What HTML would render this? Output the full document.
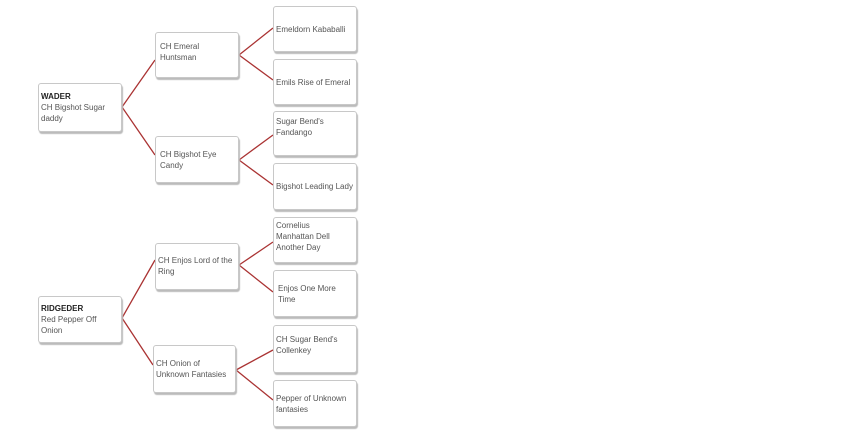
<!DOCTYPE html>
<html><head><style>
body{margin:0;width:860px;height:448px;background:#fff;position:relative;font-family:"Liberation Sans",sans-serif;overflow:hidden}
.b{position:absolute;box-sizing:border-box;border:1px solid #c8c8c8;border-radius:3px;background:#fff;box-shadow:1px 2px 1px #bbb;font-size:8px;line-height:11px;color:#555;padding:2px 2px;display:flex;align-items:center}
.t{align-items:flex-start;padding-top:4px}
b{color:#222}
svg{position:absolute;left:0;top:0}
</style></head><body>
<svg width="860" height="448"><g stroke="#a33" stroke-width="1.3" fill="none">
<path d="M122 107L155 60M122 107L155 155M239 55L273 28M239 55L273 80M239 160L273 135M239 160L273 185"/>
<path d="M122 318L155 260M122 318L153 365M239 265L273 242M239 265L273 292M236 370L273 350M236 370L273 400"/>
</g></svg>
<div class="b" style="left:38px;top:83px;width:84px;height:49px"><div><b>WADER</b><br>CH Bigshot Sugar<br>daddy</div></div>
<div class="b t" style="left:155px;top:32px;width:84px;height:46px;padding-top:8px;padding-left:4px"><div>CH Emeral<br>Huntsman</div></div>
<div class="b" style="left:155px;top:136px;width:84px;height:47px;padding-left:4px"><div>CH Bigshot Eye<br>Candy</div></div>
<div class="b" style="left:273px;top:6px;width:84px;height:46px;align-items:flex-start;padding-top:17px"><div>Emeldorn Kababalli</div></div>
<div class="b" style="left:273px;top:59px;width:84px;height:46px"><div>Emils Rise of Emeral</div></div>
<div class="b t" style="left:273px;top:111px;width:84px;height:45px"><div>Sugar Bend's<br>Fandango</div></div>
<div class="b" style="left:273px;top:163px;width:84px;height:47px"><div>Bigshot Leading Lady</div></div>
<div class="b" style="left:38px;top:296px;width:84px;height:47px"><div><b>RIDGEDER</b><br>Red Pepper Off<br>Onion</div></div>
<div class="b" style="left:155px;top:243px;width:84px;height:47px;align-items:flex-start;padding-top:11px"><div>CH Enjos Lord of the<br>Ring</div></div>
<div class="b" style="left:153px;top:345px;width:83px;height:48px"><div>CH Onion of<br>Unknown Fantasies</div></div>
<div class="b t" style="left:273px;top:217px;width:84px;height:46px;padding-top:2px"><div>Cornelius<br>Manhattan Dell<br>Another Day</div></div>
<div class="b" style="left:273px;top:270px;width:84px;height:47px;padding-left:4px"><div>Enjos One More<br>Time</div></div>
<div class="b t" style="left:273px;top:325px;width:84px;height:48px;padding-top:8px"><div>CH Sugar Bend's<br>Collenkey</div></div>
<div class="b" style="left:273px;top:380px;width:84px;height:47px"><div>Pepper of Unknown<br>fantasies</div></div>
</body></html>
